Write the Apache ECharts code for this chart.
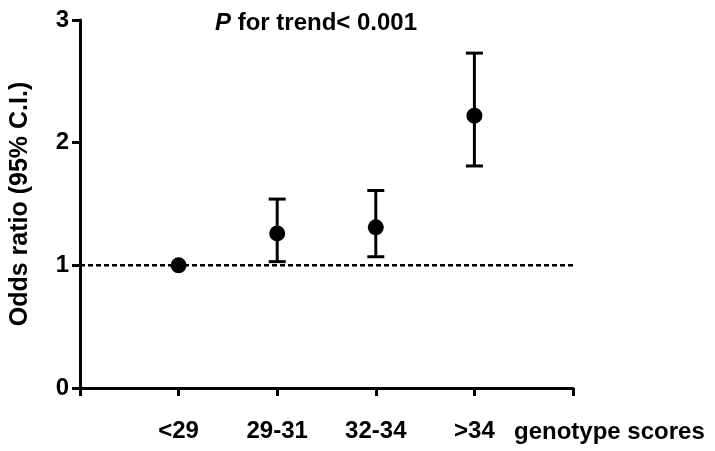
<!DOCTYPE html>
<html>
<head>
<meta charset="utf-8">
<script src="https://cdn.jsdelivr.net/npm/echarts@6/dist/echarts.min.js"></script>
<style>
html,body{margin:0;padding:0;background:#fff;}
#main{width:715px;height:451px;}
</style>
</head>
<body>
<div id="main"></div>
<script>
const categories = ['<29', '29-31', '32-34', '>34'];
const oddsRatio = [1.00, 1.26, 1.31, 2.22];
const ciLower = [null, 1.03, 1.07, 1.81];
const ciUpper = [null, 1.54, 1.61, 2.73];
const yTicks = [0, 1, 2, 3];
const referenceValue = 1;
const xAxisTitle = 'genotype scores';
const yAxisTitle = 'Odds ratio (95% C.I.)';

const FONT = '"Liberation Sans", Arial, sans-serif';
const chart = echarts.init(document.getElementById('main'), null, {renderer: 'canvas'});

const pointData = oddsRatio.map((v, i) => [i + 1, v]);
const errData = oddsRatio.map((v, i) => [i + 1, ciLower[i], ciUpper[i]]).filter(d => d[1] != null);

chart.setOption({
  animation: false,
  backgroundColor: '#fff',
  title: {
    text: '{i|P} for trend< 0.001',
    left: 311,
    textAlign: 'center',
    top: 6,
    textStyle: {
      fontFamily: FONT, fontWeight: 'bold', fontSize: 24, color: '#000',
      rich: {
        i: {fontFamily: FONT, fontWeight: 'bold', fontStyle: 'italic', fontSize: 24, color: '#000'}
      }
    }
  },
  graphic: [{
    type: 'text',
    left: 514,
    top: 420,
    style: {text: xAxisTitle, font: 'bold 24px ' + FONT, fill: '#000'}
  }],
  grid: {left: 78, right: 142, top: 20, bottom: 63, containLabel: false},
  xAxis: {
    type: 'value', min: 0, max: 5, interval: 1,
    splitLine: {show: false},
    axisLine: {show: true, onZero: false, lineStyle: {color: '#000', width: 3}},
    axisTick: {show: true, length: 8, lineStyle: {color: '#000', width: 3}},
    axisLabel: {
      margin: 31,
      color: '#000', fontFamily: FONT, fontWeight: 'bold', fontSize: 24,
      formatter: v => (v >= 1 && v <= categories.length && Number.isInteger(v)) ? categories[v - 1] : ''
    }
  },
  yAxis: {
    type: 'value', min: yTicks[0], max: yTicks[yTicks.length - 1], interval: 1,
    splitLine: {show: false},
    name: yAxisTitle,
    nameLocation: 'middle',
    nameGap: 47,
    nameTextStyle: {color: '#000', fontFamily: FONT, fontWeight: 'bold', fontSize: 25},
    axisLine: {show: true, lineStyle: {color: '#000', width: 3}},
    axisTick: {show: true, length: 8, lineStyle: {color: '#000', width: 3}},
    axisLabel: {margin: 11, color: '#000', fontFamily: FONT, fontWeight: 'bold', fontSize: 24}
  },
  series: [
    {
      type: 'line',
      data: [[0, referenceValue], [5, referenceValue]],
      symbol: 'none',
      lineStyle: {color: '#000', width: 2.5, type: [5, 3]},
      silent: true,
      z: 1
    },
    {
      type: 'custom',
      data: errData,
      renderItem: function (params, api) {
        const x = api.value(0);
        const lo = api.coord([x, api.value(1)]);
        const hi = api.coord([x, api.value(2)]);
        const hw = 8.5;
        const st = {stroke: '#000', lineWidth: 3};
        return {
          type: 'group',
          children: [
            {type: 'line', shape: {x1: lo[0], y1: lo[1], x2: hi[0], y2: hi[1]}, style: st},
            {type: 'line', shape: {x1: lo[0] - hw, y1: lo[1], x2: lo[0] + hw, y2: lo[1]}, style: st},
            {type: 'line', shape: {x1: hi[0] - hw, y1: hi[1], x2: hi[0] + hw, y2: hi[1]}, style: st}
          ]
        };
      },
      z: 2
    },
    {
      type: 'scatter',
      data: pointData,
      symbol: 'circle',
      symbolSize: 16,
      itemStyle: {color: '#000', opacity: 1},
      z: 3
    }
  ]
});
</script>
</body>
</html>
